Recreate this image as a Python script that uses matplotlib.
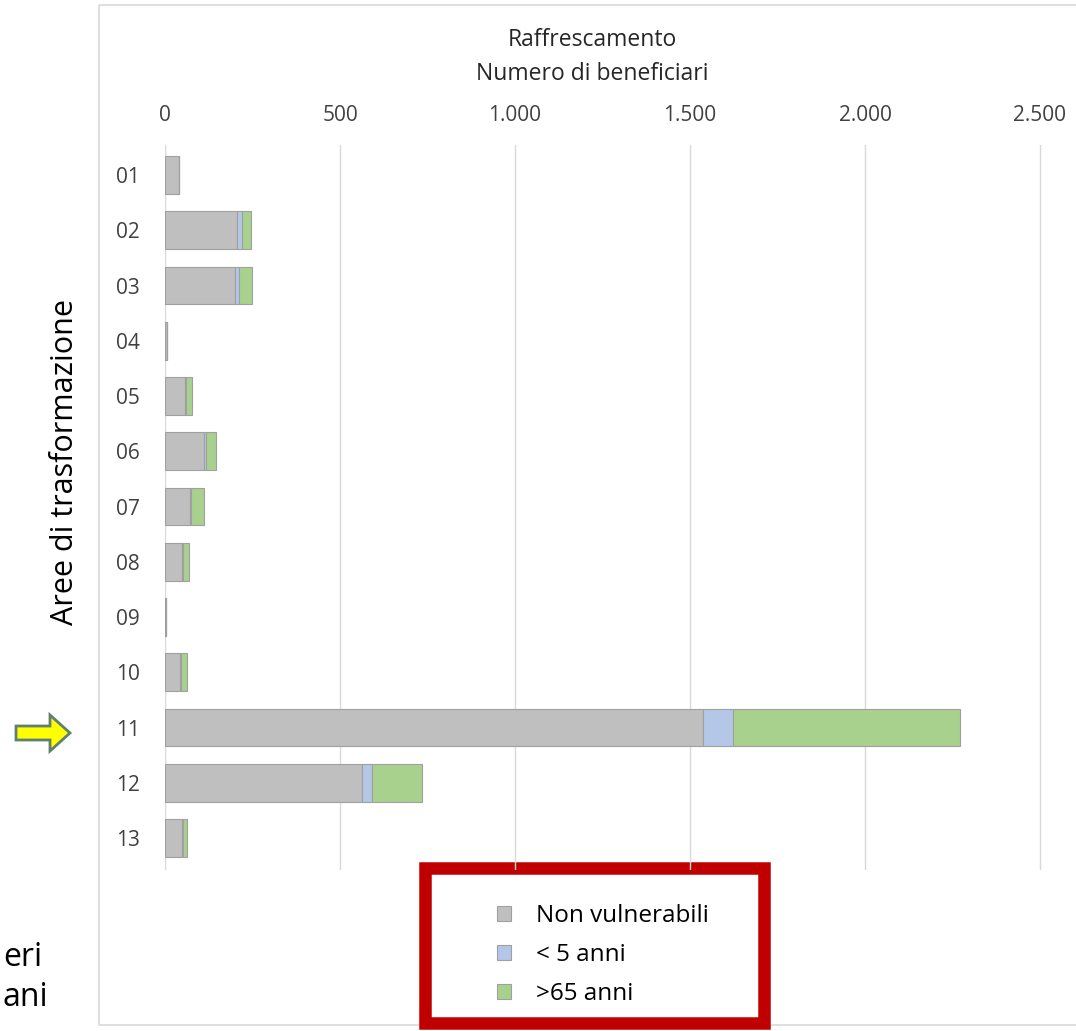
import numpy as np
import matplotlib
matplotlib.use("Agg")
import matplotlib.pyplot as plt
from matplotlib.patches import Rectangle, FancyArrow

# Data
aree = ["01", "02", "03", "04", "05", "06", "07", "08", "09", "10", "11", "12", "13"]
non_vulnerabili = [40, 205, 200, 6, 57, 112, 71, 48, 3, 43, 1538, 564, 49]
meno_5_anni = [0, 14, 12, 0, 4, 4, 3, 3, 0, 2, 86, 28, 2]
oltre_65_anni = [0, 26, 37, 0, 17, 30, 37, 18, 0, 17, 646, 141, 13]
x_ticks = [0, 500, 1000, 1500, 2000, 2500]
x_ticklabels = ["0", "500", "1.000", "1.500", "2.000", "2.500"]

plt.rcParams['font.family'] = ['Open Sans', 'DejaVu Sans']

W, H = 1076, 1031
fig = plt.figure(figsize=(W / 100, H / 100), dpi=100)

# overlay in pixel coordinates for decorations
over = fig.add_axes([0, 0, 1, 1], zorder=0)
over.set_xlim(0, W)
over.set_ylim(H, 0)
over.axis("off")
over.add_patch(Rectangle((99, 5), W - 99 + 5, 1020, fill=False, edgecolor="#d9d9d9", linewidth=1.2))

# main axes
ax_left, ax_right, ax_top, ax_bot = 165, 1061, 145, 870
ax = fig.add_axes([ax_left / W, 1 - ax_bot / H, (ax_right - ax_left) / W, (ax_bot - ax_top) / H], zorder=1)
ax.patch.set_alpha(0)

y = np.arange(len(aree))
nv = np.array(non_vulnerabili)
m5 = np.array(meno_5_anni)
o65 = np.array(oltre_65_anni)
h = 0.68
b1 = ax.barh(y, nv, height=h, color="#bfbfbf", edgecolor="#a0a0a0", linewidth=0.8, label="Non vulnerabili", zorder=3)
b2 = ax.barh(y, m5, left=nv, height=h, color="#b4c7e7", edgecolor="#a0a0a0", linewidth=0.8, label="< 5 anni", zorder=3)
b3 = ax.barh(y, o65, left=nv + m5, height=h, color="#a9d18e", edgecolor="#a0a0a0", linewidth=0.8, label=">65 anni", zorder=3)

ax.set_xlim(0, (ax_right - ax_left) / 0.35)
ax.set_ylim(12 + (ax_bot - 838) / 55.25, -(175 - ax_top) / 55.25)
ax.set_yticks(y)
ax.set_yticklabels(aree)
ax.set_xticks(x_ticks)
ax.set_xticklabels(x_ticklabels)
ax.xaxis.tick_top()
ax.tick_params(axis="both", length=0, labelsize=15, colors="#404040")
ax.tick_params(axis="x", pad=14)
ax.tick_params(axis="y", pad=18)
ax.grid(axis="x", color="#d9d9d9", linewidth=1.0, zorder=0)
for s in ax.spines.values():
    s.set_visible(False)

# titles
fig.text(592 / W, 1 - 40 / H, "Raffrescamento", ha="center", va="center", fontsize=16.5, color="#262626")
fig.text(592 / W, 1 - 74 / H, "Numero di beneficiari", ha="center", va="center", fontsize=16.5, color="#262626")
fig.text(65 / W, 1 - 462 / H, "Aree di trasformazione", rotation=90, ha="center", va="center", fontsize=22, color="black")

# cut-off text on the left
over.text(3, 958, "eri", ha="left", va="center", fontsize=23, color="black")
over.text(3, 998, "ani", ha="left", va="center", fontsize=23, color="black")

# yellow arrow pointing at area 11
over.add_patch(FancyArrow(16, 733, 34, 0, width=14, head_width=36, head_length=20,
                          length_includes_head=False, facecolor="#ffff00", edgecolor="#5f7f6f", linewidth=2))

# red box around the legend
over.add_patch(Rectangle((425, 868), 339, 155, fill=False, edgecolor="#c00000", linewidth=9, zorder=5))
fig.legend(handles=[b1, b2, b3], loc="upper left", bbox_to_anchor=(475 / W, 1 - 882 / H),
           frameon=False, fontsize=17.5, handlelength=0.6, handleheight=0.6, handletextpad=1.0,
           labelspacing=0.62)

fig.savefig("out.png", dpi=100)
